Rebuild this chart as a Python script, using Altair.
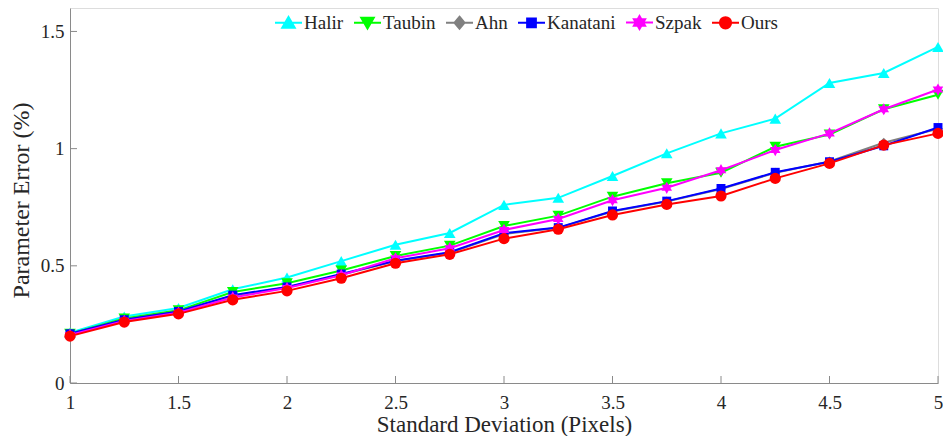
import math
import altair as alt
import pandas as pd

# ---------------- data ----------------
x_vals = [1.0, 1.25, 1.5, 1.75, 2.0, 2.25, 2.5, 2.75, 3.0, 3.25, 3.5, 3.75, 4.0, 4.25, 4.5, 4.75, 5.0]
halir = [0.215, 0.284, 0.32, 0.40, 0.45, 0.52, 0.59, 0.64, 0.76, 0.79, 0.883, 0.98, 1.065, 1.128, 1.28, 1.323, 1.434]
taubin = [0.21, 0.275, 0.31, 0.388, 0.426, 0.48, 0.542, 0.586, 0.67, 0.714, 0.795, 0.852, 0.897, 1.008, 1.06, 1.168, 1.23]
ahn = [0.21, 0.27, 0.305, 0.372, 0.408, 0.462, 0.52, 0.556, 0.636, 0.662, 0.732, 0.774, 0.828, 0.897, 0.945, 1.025, 1.085]
kanatani = [0.21, 0.27, 0.305, 0.375, 0.41, 0.465, 0.522, 0.558, 0.639, 0.663, 0.734, 0.776, 0.83, 0.899, 0.944, 1.012, 1.09]
szpak = [0.205, 0.265, 0.30, 0.365, 0.405, 0.46, 0.532, 0.575, 0.653, 0.70, 0.78, 0.833, 0.908, 0.994, 1.065, 1.168, 1.252]
ours = [0.20, 0.26, 0.295, 0.355, 0.393, 0.447, 0.511, 0.549, 0.616, 0.656, 0.717, 0.762, 0.798, 0.873, 0.937, 1.015, 1.065]

names = ["Halir", "Taubin", "Ahn", "Kanatani", "Szpak", "Ours"]
series = [halir, taubin, ahn, kanatani, szpak, ours]
colors = ["#00FFFF", "#00FF00", "#808080", "#0000FF", "#FF00FF", "#FF0000"]

x_ticks = [1, 1.5, 2, 2.5, 3, 3.5, 4, 4.5, 5]
y_ticks = [0, 0.5, 1, 1.5]

# ---------------- styling ----------------
FONT = "Liberation Serif"
TEXT = "#262626"
AXISC = "#8a8a8a"
W, H = 868, 375
PAD_L = 62


def star_path(scale, n=6, inner=0.577):
    pts = []
    for k in range(2 * n):
        r = scale if k % 2 == 0 else scale * inner
        a = math.pi / 2 + k * math.pi / n
        pts.append((r * math.cos(a), -r * math.sin(a)))
    return "M" + "L".join(f"{px:.3f},{py:.3f}" for px, py in pts) + "Z"


hexagram = star_path(1.0)
plot_shapes = ["triangle-up", "triangle-down", "diamond", "square", hexagram, "circle"]
plot_sizes = [135, 135, 100, 80, 150, 125]

# legend symbols: a short line with the marker on it (units of half the symbol box)
leg_marks = [
    "M0,-0.46L0.5,0.4L-0.5,0.4Z",
    "M0,0.46L0.5,-0.4L-0.5,-0.4Z",
    "M0,-0.48L0.4,0L0,0.48L-0.4,0Z",
    "M-0.35,-0.35H0.35V0.35H-0.35Z",
    star_path(0.52),
    "M-0.45,0A0.45,0.45,0,1,0,0.45,0A0.45,0.45,0,1,0,-0.45,0Z",
]
line_part = "M-1.08,0H1.08"
leg_paths = [line_part + mk for mk in leg_marks]

rows = []
for nm, vals in zip(names, series):
    for xv, yv in zip(x_vals, vals):
        rows.append({"sd": xv, "err": yv, "method": nm})
df = pd.DataFrame(rows)

x_scale = alt.Scale(domain=[1, 5], nice=False, zero=False)
y_scale = alt.Scale(domain=[0, 1.6], nice=False)
c_scale = alt.Scale(domain=names, range=colors)
s_scale = alt.Scale(domain=names, range=leg_paths)

x_axis = alt.Axis(
    values=x_ticks, format="~g", title="Standard Deviation (Pixels)", grid=False,
    tickSize=0, labelFlush=False, labelPadding=10, domainColor=AXISC, domainWidth=1,
    labelColor=TEXT, labelFont=FONT, labelFontSize=19,
    titleFont=FONT, titleFontSize=23, titleFontWeight="normal", titleColor=TEXT,
    titleY=30, titleBaseline="top",
)
y_axis = alt.Axis(
    values=y_ticks, format="~g", title="Parameter Error (%)", grid=False,
    tickSize=0, labelFlush=False, labelPadding=6, domainColor=AXISC, domainWidth=1,
    labelColor=TEXT, labelFont=FONT, labelFontSize=19,
    titleFont=FONT, titleFontSize=24, titleFontWeight="normal", titleColor=TEXT,
    titleX=-49, titleY=192, titleBaseline="middle", titleAngle=270,
)


def legend():
    return alt.Legend(
        title=None, orient="none", legendX=275 - 8 - PAD_L, legendY=1, direction="horizontal",
        symbolSize=625, symbolStrokeWidth=2, symbolOpacity=1, labelOffset=2, columnPadding=6,
        labelFont=FONT, labelFontSize=19, labelColor=TEXT, padding=0, labelBaseline="middle",
    )


base = alt.Chart(df)
layers = []

# inward tick marks
xt = alt.Chart(pd.DataFrame({"t": x_ticks})).mark_rule(color=AXISC, strokeWidth=1).encode(
    x=alt.X("t:Q", scale=x_scale, axis=x_axis), y=alt.value(H), y2=alt.value(H - 7))
yt = alt.Chart(pd.DataFrame({"t": y_ticks})).mark_rule(color=AXISC, strokeWidth=1).encode(
    y=alt.Y("t:Q", scale=y_scale, axis=y_axis), x=alt.value(0), x2=alt.value(7))
layers += [xt, yt]

for i, nm in enumerate(names):
    sub = base.transform_filter(alt.datum.method == nm)
    line = sub.mark_line(strokeWidth=2, color=colors[i]).encode(
        x=alt.X("sd:Q", scale=x_scale, axis=x_axis),
        y=alt.Y("err:Q", scale=y_scale, axis=y_axis),
    )
    pts = sub.mark_point(filled=True, opacity=1, shape=plot_shapes[i], size=plot_sizes[i],
                         color=colors[i]).encode(
        x=alt.X("sd:Q", scale=x_scale),
        y=alt.Y("err:Q", scale=y_scale),
    )
    layers += [line, pts]

# legend carrier: no rows survive the filter, the legend comes from the scale domains
carrier = base.transform_filter(alt.datum.err < 0).mark_point(strokeWidth=2, opacity=1).encode(
    x=alt.X("sd:Q", scale=x_scale),
    y=alt.Y("err:Q", scale=y_scale),
    fill=alt.Fill("method:N", scale=c_scale, legend=legend()),
    stroke=alt.Stroke("method:N", scale=c_scale, legend=legend()),
    shape=alt.Shape("method:N", scale=s_scale, legend=legend()),
)
layers.append(carrier)

chart = alt.layer(*layers).properties(
    width=W, height=H,
    padding={"left": PAD_L, "top": 0, "right": 5, "bottom": 53},
    autosize="none",
).configure_view(stroke=None).configure(background="white")

chart.save("out.html", embed_options={"renderer": "svg", "actions": False})
